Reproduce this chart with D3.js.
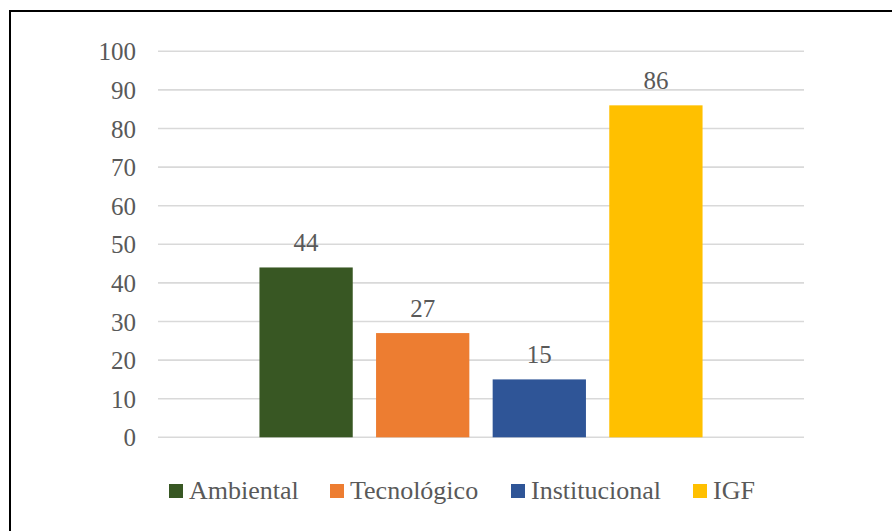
<!DOCTYPE html>
<html>
<head>
<meta charset="utf-8">
<script src="https://cdn.jsdelivr.net/npm/d3@7"></script>
</head>
<body style="margin:0">
<svg id="chart" width="892" height="531" style="display:block"></svg>
<script>
// data
const series = ["Ambiental", "Tecnológico", "Institucional", "IGF"]
const values = [44, 27, 15, 86]
const colors = ["#385723", "#ED7D31", "#2F5597", "#FFC000"]
const yTicks = [0, 10, 20, 30, 40, 50, 60, 70, 80, 90, 100]

const W = 892, H = 531
const PLOT = {left: 158, right: 804, top: 51.3, bottom: 437.3}
const FONT = "Times New Roman"
const TEXT = "#595959"

const svg = d3.select("#chart")

// outer frame (only top and left edges show in the picture)
svg.append("line")
    .attr("x1", 9).attr("x2", W)
    .attr("y1", 11).attr("y2", 11)
    .attr("stroke", "#000").attr("stroke-width", 2)
svg.append("line")
    .attr("x1", 10).attr("x2", 10)
    .attr("y1", 10).attr("y2", H)
    .attr("stroke", "#000").attr("stroke-width", 2)

const y = d3.scaleLinear()
    .domain([0, 100])
    .range([PLOT.bottom, PLOT.top])

const x = d3.scaleBand()
    .domain(series)
    .range([PLOT.left, PLOT.right])
    .paddingInner(0.2)
    .paddingOuter(0.87)

// gridlines
svg.append("g").selectAll("line")
  .data(yTicks)
  .join("line")
    .attr("x1", PLOT.left).attr("x2", PLOT.right)
    .attr("y1", d => y(d)).attr("y2", d => y(d))
    .attr("stroke", "#d9d9d9")
    .attr("stroke-width", 1.6)

// tick labels
svg.append("g").selectAll("text")
  .data(yTicks)
  .join("text")
    .attr("x", 136)
    .attr("y", d => y(d) + 9)
    .attr("text-anchor", "end")
    .style("font-family", FONT)
    .style("font-size", "25px")
    .style("fill", TEXT)
    .text(d => d)

// bars
svg.append("g").selectAll("rect")
  .data(series)
  .join("rect")
    .attr("x", d => x(d))
    .attr("width", x.bandwidth())
    .attr("y", (d, i) => y(values[i]))
    .attr("height", (d, i) => y(0) - y(values[i]))
    .attr("fill", (d, i) => colors[i])

// value labels
svg.append("g").selectAll("text")
  .data(series)
  .join("text")
    .attr("x", d => x(d) + x.bandwidth() / 2)
    .attr("y", (d, i) => y(values[i]) - 16)
    .attr("text-anchor", "middle")
    .style("font-family", FONT)
    .style("font-size", "25px")
    .style("fill", TEXT)
    .text((d, i) => values[i])

// legend
const legendX = [169, 330, 511, 693]
const legend = svg.append("g").selectAll("g")
  .data(series)
  .join("g")
    .attr("transform", (d, i) => `translate(${legendX[i]}, 484)`)
legend.append("rect")
    .attr("width", 14)
    .attr("height", 14)
    .attr("fill", (d, i) => colors[i])
legend.append("text")
    .attr("x", 20)
    .attr("y", 15)
    .style("font-family", FONT)
    .style("font-size", "26px")
    .style("fill", TEXT)
    .text(d => d)
</script>
</body>
</html>
